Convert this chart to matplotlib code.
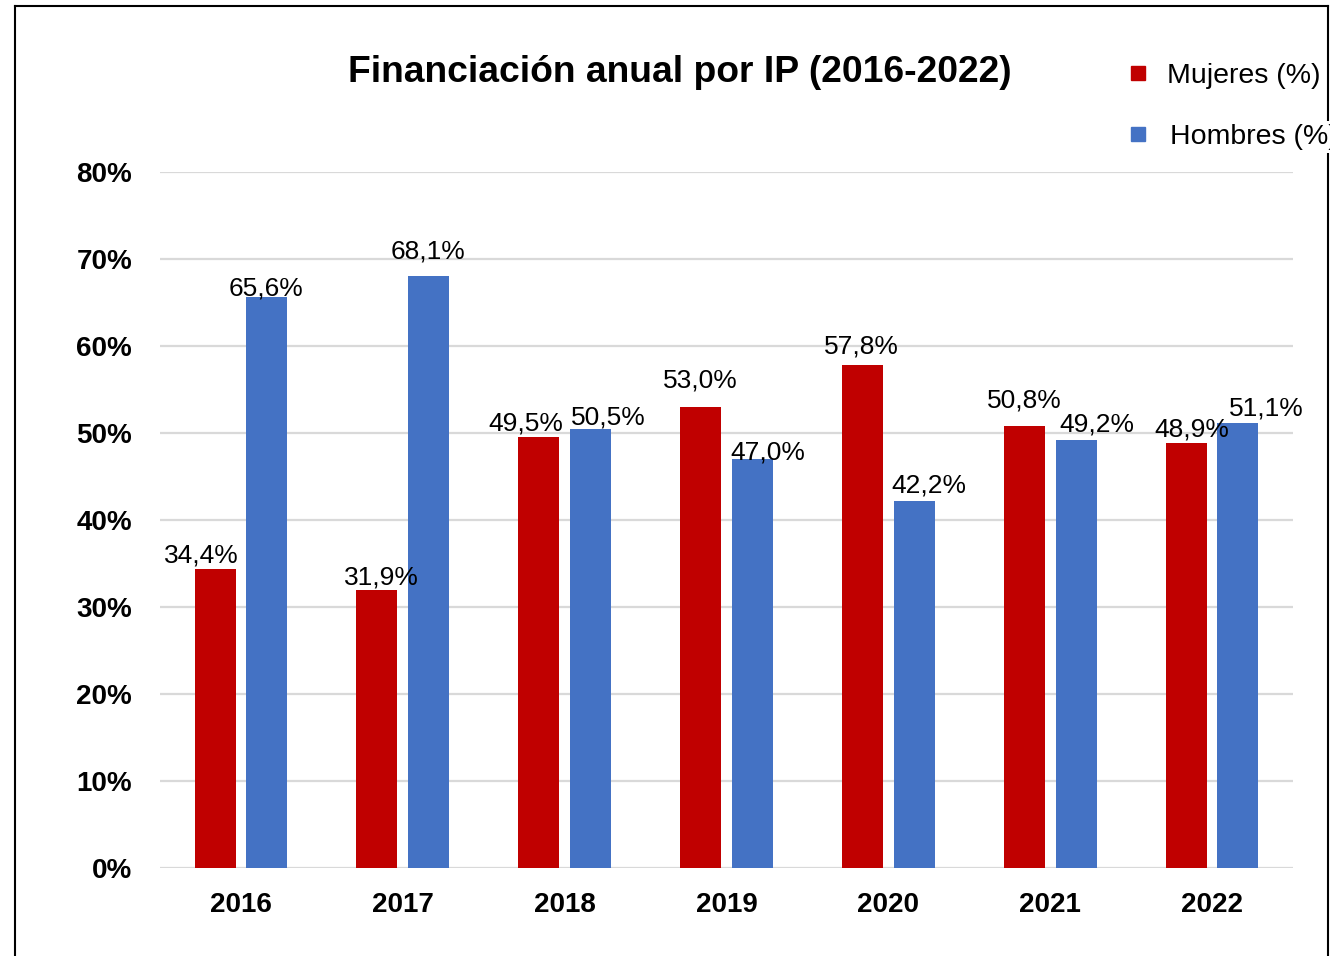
import matplotlib.pyplot as plt
from matplotlib.patches import Rectangle
from matplotlib.lines import Line2D
import numpy as np

plt.rcParams['font.family'] = ['Liberation Sans', 'DejaVu Sans']

years = ['2016', '2017', '2018', '2019', '2020', '2021', '2022']
mujeres = [34.4, 31.9, 49.5, 53.0, 57.8, 50.8, 48.9]
hombres = [65.6, 68.1, 50.5, 47.0, 42.2, 49.2, 51.1]
series_names = ['Mujeres (%)', 'Hombres (%)']

# desplazamiento de las etiquetas (px) como en el original
off_m = [(-14, 6), (5, 6), (-13, 7), (0, 19), (-1, 12), (0, 19), (6, 6)]
off_h = [(-1, 2), (-1, 17), (18, 4), (15, 0), (15, 8), (21, 8), (28, 8)]

red = '#c00000'
blue = '#4472c4'

fig = plt.figure(figsize=(13.3, 9.56), dpi=100)
ax = fig.add_axes([160/1330, 88/956, 1133/1330, 696/956])

x = np.arange(len(years))
w = 0.253
d = 0.16
b1 = ax.bar(x - d, mujeres, w, color=red, zorder=3)
b2 = ax.bar(x + d, hombres, w, color=blue, zorder=3)

def fmt(v):
    return f'{v:.1f}%'.replace('.', ',')

for bars, vals, offs in [(b1, mujeres, off_m), (b2, hombres, off_h)]:
    for bar, v, o in zip(bars, vals, offs):
        ax.annotate(fmt(v), (bar.get_x() + bar.get_width()/2, v),
                    xytext=o, textcoords='offset pixels',
                    ha='center', va='baseline', fontsize=19, zorder=4)

ax.set_xlim(-0.5, 6.5)
ax.set_ylim(0, 80)
ax.set_yticks(range(0, 81, 10))
ax.set_yticklabels([f'{t}%' for t in range(0, 81, 10)], fontsize=20, fontweight='bold')
ax.set_xticks(x)
ax.set_xticklabels(years, fontsize=20, fontweight='bold')
ax.tick_params(axis='y', length=0, pad=20)
ax.tick_params(axis='x', length=0, pad=17)
ax.grid(axis='y', color='#d9d9d9', linewidth=1.6, zorder=0)
for s in ax.spines.values():
    s.set_visible(False)

fig.text(679.5/1330, 1 - 82/956, 'Financiación anual por IP (2016-2022)',
         ha='center', va='baseline', fontsize=26.8, fontweight='bold')

# marco
fig.add_artist(Line2D([15/1330, 15/1330], [0, 1 - 6/956], color='black', lw=1.5))
fig.add_artist(Line2D([15/1330, 1328/1330], [1 - 6/956, 1 - 6/956], color='black', lw=1.5))
fig.add_artist(Line2D([1328/1330, 1328/1330], [0, 1 - 6/956], color='black', lw=1.5))

# leyenda
for name, col, ty, tx in [(series_names[0], red, 73, 1167), (series_names[1], blue, 134, 1170)]:
    fig.add_artist(Rectangle((1131/1330, 1 - (ty + 7)/956), 14/1330, 14/956,
                             transform=fig.transFigure, color=col))
    fig.text(tx/1330, 1 - (ty + 3)/956, name, ha='left', va='center', fontsize=20.5,
             bbox=dict(facecolor='white', edgecolor='none', pad=2))

fig.savefig('out.png', dpi=100)
